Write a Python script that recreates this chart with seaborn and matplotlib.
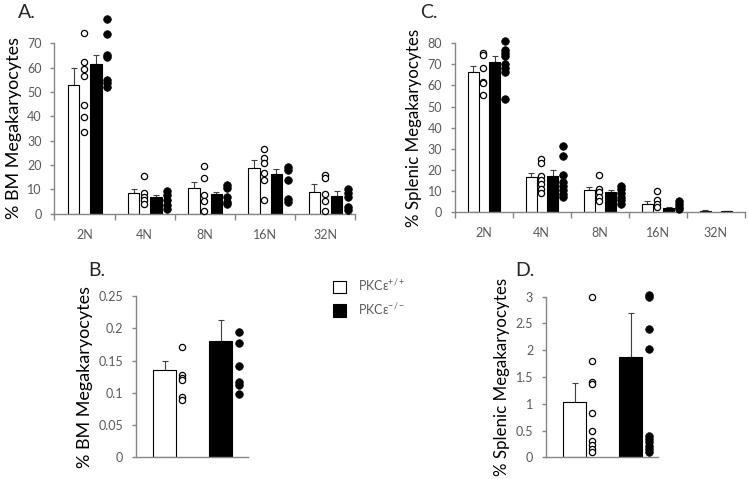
import matplotlib
matplotlib.use('Agg')
import matplotlib.pyplot as plt
import numpy as np
import pandas as pd
import seaborn as sns
from matplotlib.patches import Patch

# Data
ploidy = ['2N', '4N', '8N', '16N', '32N']

# A. bone marrow ploidy
bm_wt_mean = [52.7, 8.6, 10.4, 18.9, 9.0]
bm_wt_err = [7.3, 1.5, 2.8, 3.0, 3.2]
bm_ko_mean = [61.5, 6.8, 8.1, 16.2, 7.4]
bm_ko_err = [3.7, 0.9, 0.9, 2.0, 1.8]
bm_wt_dots = [[74.2, 62.5, 59.5, 56.7, 44.7, 39.6, 33.4],
              [15.6, 8.6, 7.0, 5.6, 4.0],
              [19.7, 14.5, 7.7, 5.3, 1.2],
              [26.6, 22.7, 20.7, 16.8, 13.7, 5.6],
              [16.0, 14.5, 7.9, 5.2, 1.2]]
bm_ko_dots = [[80.0, 73.7, 65.2, 64.5, 55.0, 53.6, 52.2],
              [9.3, 7.7, 5.6, 3.6, 1.8],
              [11.6, 10.4, 6.7, 4.9, 4.0],
              [19.3, 17.9, 14.0, 6.0, 5.0],
              [10.0, 8.6, 6.7, 2.9, 1.5]]

# C. spleen ploidy
sp_wt_mean = [66.4, 16.4, 10.6, 3.8, 0.6]
sp_wt_err = [2.7, 2.3, 1.1, 1.3, 0.3]
sp_ko_mean = [71.0, 17.2, 9.3, 2.1, 0.3]
sp_ko_err = [3.0, 2.7, 1.1, 0.4, 0.1]
sp_wt_dots = [[75.3, 74.5, 68.1, 61.8, 61.0, 55.5],
              [25.0, 23.1, 17.1, 15.2, 13.3, 11.1, 8.9],
              [17.4, 11.1, 9.6, 7.1, 5.1],
              [10.1, 5.5, 3.8, 2.5],
              []]
sp_ko_dots = [[81.3, 76.8, 75.3, 74.0, 70.2, 68.1, 66.6, 53.8],
              [31.3, 26.6, 17.5, 14.4, 12.3, 10.4, 8.5, 7.0],
              [12.2, 10.8, 9.2, 7.3, 5.7, 3.8],
              [5.1, 3.8, 2.5, 1.3],
              []]

# B. total BM megakaryocytes
bmt_mean = [0.135, 0.180]
bmt_err = [0.015, 0.033]
bmt_wt_dots = [0.171, 0.127, 0.123, 0.120, 0.094, 0.089]
bmt_ko_dots = [0.195, 0.177, 0.142, 0.117, 0.112, 0.098]

# D. total splenic megakaryocytes
spt_mean = [1.03, 1.88]
spt_err = [0.36, 0.82]
spt_wt_dots = [3.0, 1.79, 1.40, 1.36, 0.83, 0.49, 0.30, 0.23, 0.16, 0.09]
spt_ko_dots = [3.03, 3.0, 2.4, 2.02, 0.40, 0.34, 0.28, 0.22, 0.16, 0.09]

sns.set_style('white')
plt.rcParams['font.family'] = ['Lato', 'DejaVu Sans']
plt.rcParams['mathtext.default'] = 'regular'

GRAY = '#868686'
TXT = '#595959'

fig = plt.figure(figsize=(7.48, 4.79), dpi=100)
axA = fig.add_axes([0.0726, 0.5539, 0.4024, 0.3557])
axC = fig.add_axes([0.6079, 0.5574, 0.3877, 0.3522])
axB = fig.add_axes([0.1814, 0.0453, 0.150, 0.3367])
axD = fig.add_axes([0.7295, 0.0453, 0.150, 0.3353])


def dots_frame(pos, groups):
    rows = []
    for p, vals in zip(pos, groups):
        for v in vals:
            rows.append({'x': p, 'y': v})
    return pd.DataFrame(rows, columns=['x', 'y'])


def draw_dots(ax, df, filled):
    if df.empty:
        return
    if filled:
        sns.scatterplot(data=df, x='x', y='y', ax=ax, color='black', s=30,
                        edgecolor='black', linewidth=0.5, clip_on=False, zorder=4)
    else:
        sns.scatterplot(data=df, x='x', y='y', ax=ax, facecolor='white', s=20,
                        edgecolor='black', linewidth=0.9, clip_on=False, zorder=4)


def draw_bars(ax, pos, mean, err, color, width):
    ax.bar(pos, mean, width=width, color=color, edgecolor='black', linewidth=0.8, zorder=2)
    ax.errorbar(pos, mean, yerr=[np.zeros(len(err)), err], fmt='none', ecolor='#404040',
                elinewidth=0.8, capsize=2.5, capthick=0.8, zorder=1)


def style_axis(ax):
    sns.despine(ax=ax)
    for s in ['left', 'bottom']:
        ax.spines[s].set_color(GRAY)
        ax.spines[s].set_linewidth(1.0)
    ax.tick_params(axis='y', direction='out', length=3, width=1, color=GRAY,
                   labelcolor=TXT, labelsize=9, pad=6, left=True)
    ax.set_xlabel('')


def ploidy_panel(ax, wt_mean, wt_err, ko_mean, ko_err, wt_dots, ko_dots, ymax, ylabel, lsize):
    idx = np.arange(len(ploidy))
    draw_bars(ax, idx - 0.18, wt_mean, wt_err, 'white', 0.19)
    draw_bars(ax, idx + 0.19, ko_mean, ko_err, 'black', 0.19)
    draw_dots(ax, dots_frame(idx - 0.01, wt_dots), False)
    draw_dots(ax, dots_frame(idx + 0.375, ko_dots), True)
    ax.set_xlim(-0.5, len(ploidy) - 0.5)
    ax.set_ylim(0, ymax)
    ax.set_yticks(np.arange(0, ymax + 1, 10))
    style_axis(ax)
    ax.set_xticks(idx)
    ax.set_xticklabels(ploidy)
    ax.set_xticks(np.arange(-0.5, len(ploidy)), minor=True)
    ax.tick_params(axis='x', which='major', length=0, labelcolor=TXT, labelsize=9, pad=11)
    ax.tick_params(axis='x', which='minor', direction='out', length=4, width=1,
                   color=GRAY, bottom=True)
    ax.set_ylabel(ylabel, fontsize=lsize, color='black', labelpad=4)


def total_panel(ax, mean, err, wt_dots, ko_dots, ticks, ylabel, lsize):
    draw_bars(ax, [0.52, 1.52], mean, err, ['white', 'black'], 0.41)
    draw_dots(ax, dots_frame([0.83], [wt_dots]), False)
    draw_dots(ax, dots_frame([1.84], [ko_dots]), True)
    ax.set_xlim(0, 2)
    ax.set_ylim(0, ticks[-1])
    ax.set_yticks(ticks)
    ax.set_yticklabels([f'{t:g}' for t in ticks])
    style_axis(ax)
    ax.set_xticks([])
    ax.set_ylabel(ylabel, fontsize=lsize, color='black', labelpad=4)


ploidy_panel(axA, bm_wt_mean, bm_wt_err, bm_ko_mean, bm_ko_err, bm_wt_dots, bm_ko_dots,
             70, '% BM Megakaryocytes', 13)
ploidy_panel(axC, sp_wt_mean, sp_wt_err, sp_ko_mean, sp_ko_err, sp_wt_dots, sp_ko_dots,
             80, '% Splenic Megakaryocytes', 12.2)
total_panel(axB, bmt_mean, bmt_err, bmt_wt_dots, bmt_ko_dots,
            [0, 0.05, 0.1, 0.15, 0.2, 0.25], '% BM Megakaryocytes', 13)
total_panel(axD, spt_mean, spt_err, spt_wt_dots, spt_ko_dots,
            [0, 0.5, 1, 1.5, 2, 2.5, 3], '% Splenic Megakaryocytes', 12.2)

# panel letters
fig.text(18 / 748, 1 - 12 / 479, 'A.', fontsize=14, va='center')
fig.text(420 / 748, 1 - 12 / 479, 'C.', fontsize=14, va='center')
fig.text(88 / 748, 1 - 270 / 479, 'B.', fontsize=14, va='center')
fig.text(515 / 748, 1 - 270 / 479, 'D.', fontsize=14, va='center')

handles = [Patch(facecolor='white', edgecolor='black', linewidth=0.8),
           Patch(facecolor='black', edgecolor='black', linewidth=0.8)]
fig.legend(handles, ['PKCε$^{+/+}$', 'PKCε$^{-/-}$'], loc='upper left',
           bbox_to_anchor=(322 / 748, 1 - 266 / 479), frameon=False, fontsize=9,
           handlelength=1.0, handleheight=1.2, handletextpad=1.0, labelspacing=0.6,
           labelcolor=TXT)

fig.savefig('out.png', dpi=100)
